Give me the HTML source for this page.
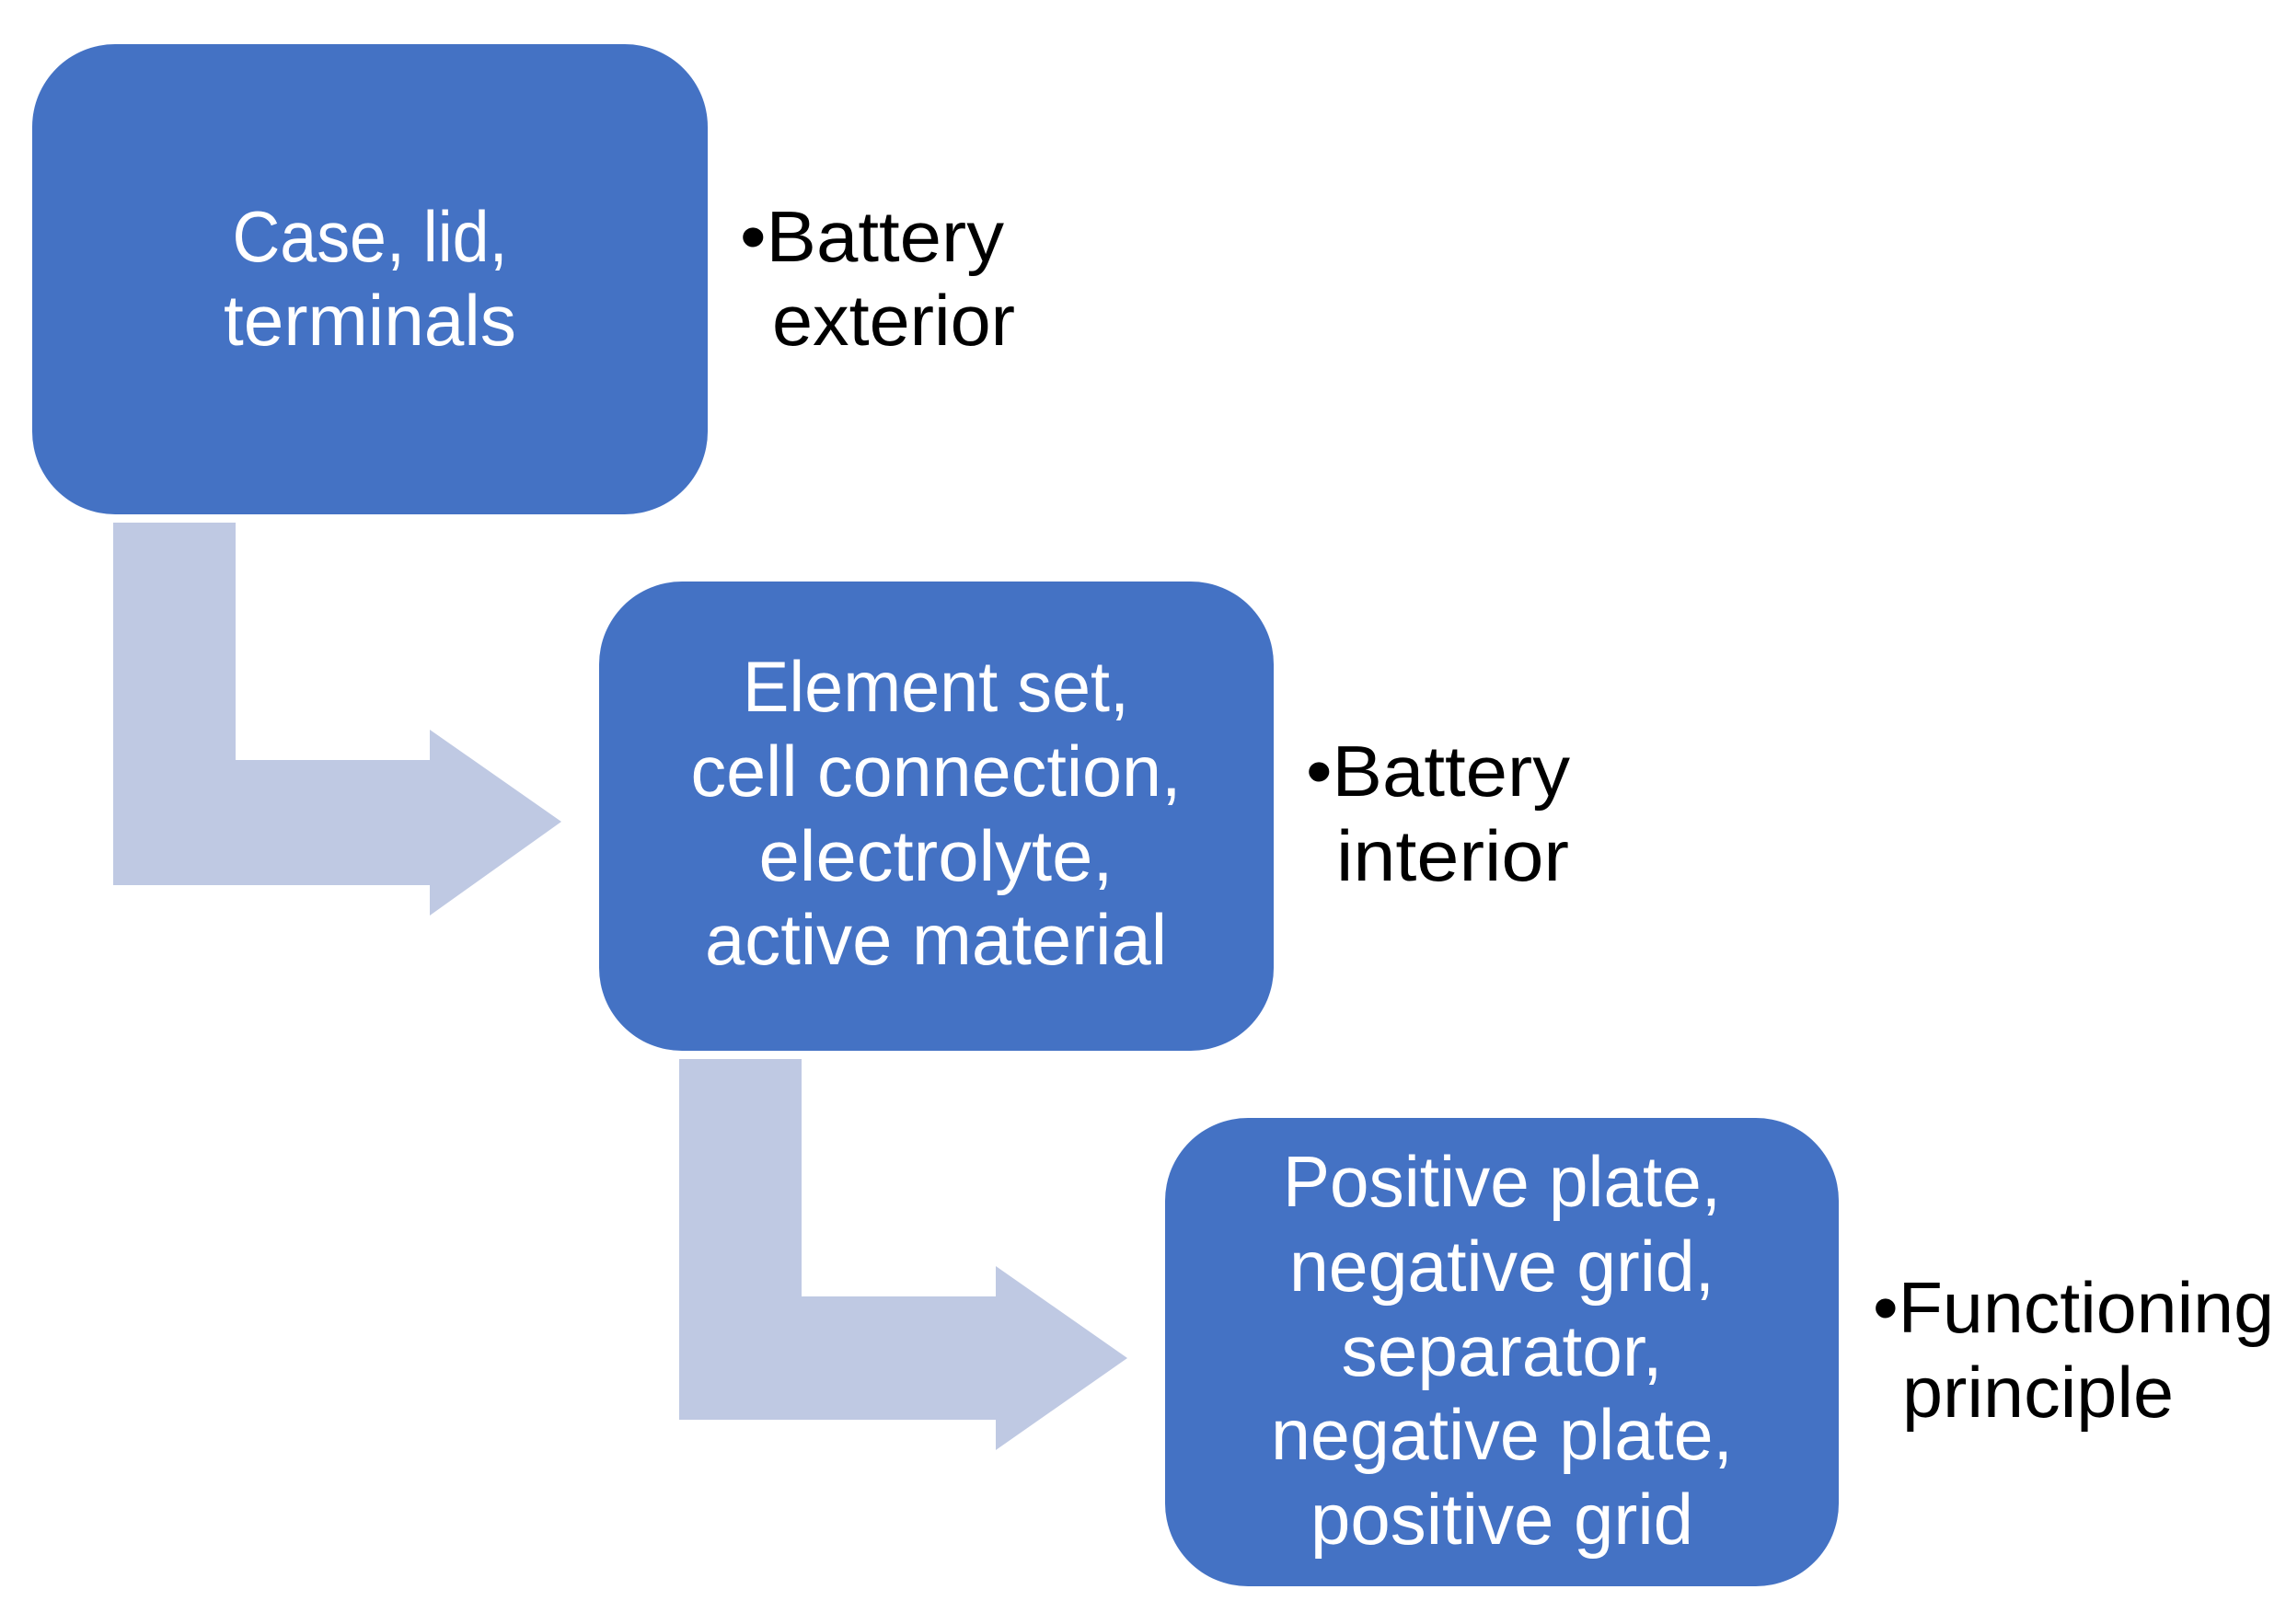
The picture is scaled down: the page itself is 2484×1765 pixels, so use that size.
<!DOCTYPE html>
<html><head><meta charset="utf-8"><style>html,body{margin:0;padding:0;background:#fff}svg{display:block}</style></head>
<body>
<svg width="2484" height="1765" viewBox="0 0 2484 1765" xmlns="http://www.w3.org/2000/svg" font-family="'Liberation Sans', sans-serif" font-size="78">
<g fill="#BFC9E3">
<polygon points="123,568 256,568 256,826 467,826 467,793 610,893 467,995 467,962 123,962"/>
<polygon points="738,1151 871,1151 871,1409 1082,1409 1082,1376 1225,1476 1082,1576 1082,1543 738,1543"/>
</g>
<g fill="#4472C4">
<rect x="35" y="48" width="734" height="511" rx="90"/>
<rect x="651" y="632" width="733" height="510" rx="90"/>
<rect x="1266" y="1215" width="732" height="509" rx="90"/>
</g>
<g fill="#fff" text-anchor="middle" lengthAdjust="spacingAndGlyphs">
<text x="402" y="284" textLength="299" lengthAdjust="spacingAndGlyphs">Case, lid,</text>
<text x="402" y="375" textLength="318" lengthAdjust="spacingAndGlyphs">terminals</text>
<text x="1017" y="773" textLength="420" lengthAdjust="spacingAndGlyphs">Element set,</text>
<text x="1017" y="865" textLength="533" lengthAdjust="spacingAndGlyphs">cell connection,</text>
<text x="1017" y="957" textLength="385" lengthAdjust="spacingAndGlyphs">electrolyte,</text>
<text x="1017" y="1048" textLength="502" lengthAdjust="spacingAndGlyphs">active material</text>
<text x="1632" y="1311" textLength="476" lengthAdjust="spacingAndGlyphs">Positive plate,</text>
<text x="1632" y="1403" textLength="462" lengthAdjust="spacingAndGlyphs">negative grid,</text>
<text x="1632" y="1495" textLength="349" lengthAdjust="spacingAndGlyphs">separator,</text>
<text x="1632" y="1586" textLength="502" lengthAdjust="spacingAndGlyphs">negative plate,</text>
<text x="1632" y="1678" textLength="416" lengthAdjust="spacingAndGlyphs">positive grid</text>
</g>
<g fill="#000">
<text x="804" y="284" textLength="287" lengthAdjust="spacingAndGlyphs">•Battery</text>
<text x="839" y="375" textLength="264" lengthAdjust="spacingAndGlyphs">exterior</text>
<text x="1419" y="865" textLength="287" lengthAdjust="spacingAndGlyphs">•Battery</text>
<text x="1452" y="957" textLength="253" lengthAdjust="spacingAndGlyphs">interior</text>
<text x="2035" y="1448" textLength="436" lengthAdjust="spacingAndGlyphs">•Functioning</text>
<text x="2067" y="1540" textLength="295" lengthAdjust="spacingAndGlyphs">principle</text>
</g>
</svg>
</body></html>
